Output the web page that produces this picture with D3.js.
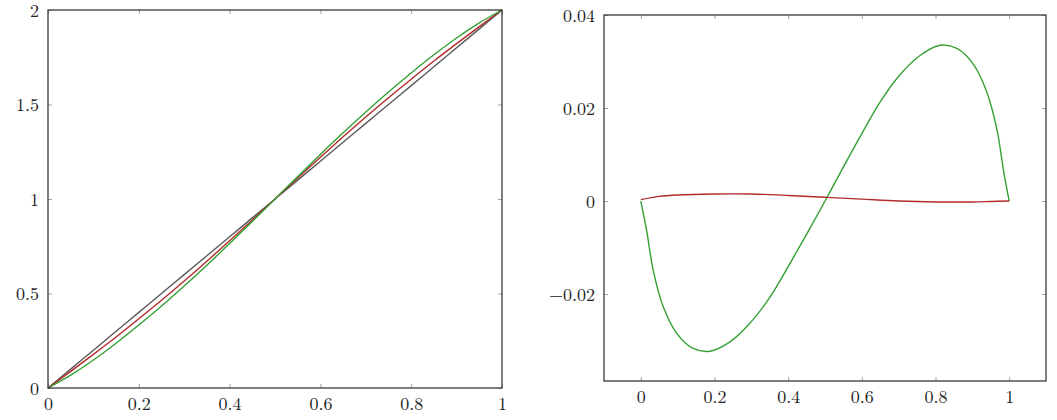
<!DOCTYPE html>
<html>
<head>
<meta charset="utf-8">
<script src="https://cdn.jsdelivr.net/npm/d3@7"></script>
<style>
  body { margin: 0; background: #fff; }
  text { font-family: "Latin Modern Roman", "Liberation Serif", serif; fill: #222; }
</style>
</head>
<body>
<div id="chart"></div>
<script>
// left panel: three curves from (0,0) to (1,2)
const leftX = [0, 0.05, 0.1, 0.15, 0.2, 0.25, 0.3, 0.35, 0.4, 0.45, 0.5, 0.55, 0.6, 0.65, 0.7, 0.75, 0.8, 0.85, 0.9, 0.95, 1];
const grayY = [0, 0.1, 0.2, 0.3, 0.4, 0.5, 0.6, 0.7, 0.8, 0.9, 1, 1.1, 1.2, 1.3, 1.4, 1.5, 1.6, 1.7, 1.8, 1.9, 2];
const redY = [0, 0.088, 0.178, 0.270, 0.366, 0.464, 0.566, 0.671, 0.779, 0.889, 1, 1.111, 1.221, 1.329, 1.434, 1.536, 1.634, 1.730, 1.822, 1.912, 2];
const greenY = [0, 0.068, 0.148, 0.237, 0.333, 0.434, 0.540, 0.650, 0.764, 0.881, 1, 1.119, 1.236, 1.350, 1.460, 1.566, 1.667, 1.763, 1.852, 1.932, 2];
const leftXTicks = [0, 0.2, 0.4, 0.6, 0.8, 1];
const leftYTicks = [0, 0.5, 1, 1.5, 2];

// right panel
const errGreenX = [0, 0.0155, 0.0334, 0.0606, 0.097, 0.142, 0.1875, 0.242, 0.296, 0.351, 0.405, 0.459, 0.5,
                   0.541, 0.595, 0.649, 0.704, 0.758, 0.8125, 0.858, 0.903, 0.939, 0.967, 0.985, 1];
const errGreenY = [0, -0.0062, -0.0148, -0.0227, -0.0284, -0.0317, -0.0323, -0.0303, -0.0263, -0.0206, -0.0134, -0.0059, 0,
                   0.0060, 0.0138, 0.0212, 0.0272, 0.0313, 0.0335, 0.0328, 0.0294, 0.0235, 0.0153, 0.0064, 0];
const errRedX = [0, 0.05, 0.1, 0.2, 0.3, 0.4, 0.5, 0.6, 0.7, 0.8, 0.9, 0.95, 1];
const errRedY = [0.0003, 0.0010, 0.0013, 0.0015, 0.0015, 0.0012, 0.0008, 0.0004, 0.0000, -0.0002, -0.0002, -0.0001, 0];
const rightXTicks = [0, 0.2, 0.4, 0.6, 0.8, 1];
const rightYTicks = [-0.02, 0, 0.02, 0.04];

const W = 1057, H = 420;
const svg = d3.select("#chart").append("svg").attr("width", W).attr("height", H);

const GRAY = "#5a5a5a", RED = "#b22a2a", GREEN = "#34a034";
const fmt = d3.format("~g");

function panel(xs, ys, xTicks, yTicks) {
  const [x0, x1] = xs.range();
  const [y0, y1] = ys.range(); // y0 bottom, y1 top
  const g = svg.append("g");

  // ticks (inward, mirrored)
  const axes = [
    [d3.axisBottom(xs).tickValues(xTicks).tickSize(-4), `translate(0,${y0})`, true],
    [d3.axisTop(xs).tickValues(xTicks).tickSize(-4), `translate(0,${y1})`, false],
    [d3.axisLeft(ys).tickValues(yTicks).tickSize(-4), `translate(${x0},0)`, true],
    [d3.axisRight(ys).tickValues(yTicks).tickSize(-4), `translate(${x1},0)`, false]
  ];
  axes.forEach(([ax, tr, labels], k) => {
    const a = g.append("g").attr("transform", tr)
      .call(ax.tickFormat(labels ? fmt : () => "").tickPadding(labels ? 9 : 0));
    a.select(".domain").remove();
    a.selectAll("line").attr("stroke", "#888").attr("stroke-width", 0.8);
    a.selectAll("text").attr("font-size", 18).attr("fill", "#222")
      .style("font-family", '"Latin Modern Roman", "Liberation Serif", serif');
    if (k === 2) a.selectAll("text").attr("dy", "0.36em");
  });
  return g;
}

function frame(g, xs, ys) {
  const [x0, x1] = xs.range();
  const [y0, y1] = ys.range();
  g.append("rect").attr("x", x0).attr("y", y1).attr("width", x1 - x0).attr("height", y0 - y1)
    .attr("fill", "none").attr("stroke", "#3a3a3a").attr("stroke-width", 1.3);
}

// left
const lx = d3.scaleLinear().domain([0, 1]).range([48, 502]);
const ly = d3.scaleLinear().domain([0, 2]).range([388, 10]);
const lg = panel(lx, ly, leftXTicks, leftYTicks);
const lline = d3.line().x(d => lx(d[0])).y(d => ly(d[1])).curve(d3.curveCatmullRom);
[[grayY, GRAY], [redY, RED], [greenY, GREEN]].forEach(([ys, c]) => {
  lg.append("path").datum(leftX.map((v, i) => [v, ys[i]]))
    .attr("d", lline).attr("fill", "none").attr("stroke", c).attr("stroke-width", 1.4);
});
frame(lg, lx, ly);

// right
const rx = d3.scaleLinear().domain([-0.1, 1.1]).range([604, 1046]);
const ry = d3.scaleLinear().domain([-0.0387, 0.04]).range([381, 15]);
const rg = panel(rx, ry, rightXTicks, rightYTicks);
const rline = d3.line().x(d => rx(d[0])).y(d => ry(d[1])).curve(d3.curveCatmullRom);
rg.append("path").datum(errGreenX.map((v, i) => [v, errGreenY[i]]))
  .attr("d", rline).attr("fill", "none").attr("stroke", GREEN).attr("stroke-width", 1.4);
rg.append("path").datum(errRedX.map((v, i) => [v, errRedY[i]]))
  .attr("d", rline).attr("fill", "none").attr("stroke", RED).attr("stroke-width", 1.4);
frame(rg, rx, ry);
</script>
</body>
</html>
